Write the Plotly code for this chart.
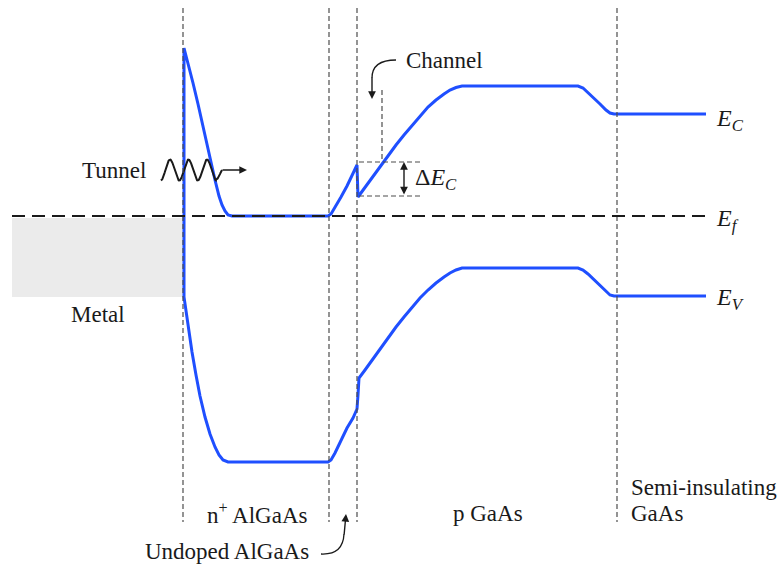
import numpy as np
import plotly.graph_objects as go

# Band-edge profiles across the structure (horizontal position, energy drawn downward)
ec_x = [184, 188, 193, 198, 204, 210, 215, 219, 222, 225, 228, 232, 328, 331, 335, 341, 347,
        353, 357, 358, 365, 372, 380, 388, 396, 404, 412, 420, 428, 436, 444, 450, 456, 462,
        578, 583, 588, 594, 600, 606, 610, 614, 706]
ec_y = [48, 63, 83, 104, 130, 157, 180, 196, 205, 211, 215, 216, 216, 214, 208, 197, 186,
        174, 165, 197, 188, 178, 167, 156, 145, 135, 125, 116, 107, 100, 94, 90, 87.5, 86,
        86, 88, 92, 98, 104, 110, 113, 114, 114]

ev_x = [184, 186, 189, 192, 196, 200, 205, 210, 215, 219, 223, 228, 328, 331, 335, 341, 347,
        353, 357, 358, 359, 365, 372, 380, 388, 396, 404, 412, 420, 428, 436, 444, 450, 456,
        462, 578, 583, 588, 594, 600, 606, 610, 614, 706]
ev_y = [297, 312, 332, 352, 375, 396, 417, 434, 447, 455, 460, 462, 462, 460, 453, 440, 428,
        418, 409, 395, 378, 370, 360, 349, 338, 327, 317, 307, 298, 290, 283, 277, 273, 270,
        268, 268, 270, 274, 280, 286, 292, 295, 296, 296]

fermi_level = 216
metal_band = (12, 183, 218, 297)

# Layer boundaries and their labels
boundaries = [183, 329, 357, 617]
region_labels = [
    ("n<sup>+</sup> AlGaAs", 257, 513, "center"),
    ("p GaAs", 488, 513, "center"),
    ("Semi-insulating", 629, 487, "left"),
    ("GaAs", 629, 513, "left"),
    ("Undoped AlGaAs", 227, 551, "center"),
    ("Metal", 98, 314, "center"),
    ("Tunnel", 148, 170, "right"),
    ("Channel", 404, 60, "left"),
]
edge_labels = [
    ("<i>E</i><sub><i>C</i></sub>", 714, 120),
    ("<i>E</i><sub><i>f</i></sub>", 714, 220),
    ("<i>E</i><sub><i>V</i></sub>", 714, 299),
]

# Conduction-band offset markers
offset_top, offset_bot = 162, 196
channel_x = 382

BLUE = "#1f4fff"
INK = "#1a1a1a"
FONT = "Liberation Serif, Times New Roman, serif"

fig = go.Figure()

shapes = []
# Metal Fermi sea
shapes.append(dict(type="rect", x0=metal_band[0], x1=metal_band[1], y0=metal_band[2], y1=metal_band[3],
                   fillcolor="#ebebeb", line=dict(width=0), layer="below"))
# Layer boundaries
for bx in boundaries:
    shapes.append(dict(type="line", x0=bx, x1=bx, y0=8, y1=522,
                       line=dict(color="#4d4d4d", width=1.2, dash="5px,3px")))
# Fermi level
shapes.append(dict(type="line", x0=12, x1=706, y0=fermi_level, y1=fermi_level,
                   line=dict(color=INK, width=2, dash="13px,7px")))
# Offset guide lines
for yy in (offset_top, offset_bot):
    shapes.append(dict(type="line", x0=359, x1=420, y0=yy, y1=yy,
                       line=dict(color="#4d4d4d", width=1.2, dash="5px,3px")))
shapes.append(dict(type="line", x0=channel_x, x1=channel_x, y0=90, y1=offset_top,
                   line=dict(color="#4d4d4d", width=1.2, dash="5px,3px")))
# Curved leader lines
shapes.append(dict(type="path", path="M 396 60 Q 372 60 372 78",
                   line=dict(color=INK, width=1.3)))
shapes.append(dict(type="path", path="M 321 554 Q 343 555 344 534",
                   line=dict(color=INK, width=1.3)))

# Band edges: conduction band, interface drop, valence band as one stroke
path_x = ec_x[::-1] + ev_x
path_y = ec_y[::-1] + ev_y
fig.add_trace(go.Scatter(x=path_x, y=path_y, mode="lines",
                         line=dict(color=BLUE, width=3, shape="linear"),
                         hoverinfo="skip", showlegend=False))

# Tunnelling wave, ending in a short horizontal tail
wx = np.linspace(161, 222, 240)
wy = 170 - 10.5 * np.cos(2 * np.pi * (wx - 170) / 18.5)
wy = np.where(wx > 216, 179.5 - (wx - 216) / 6 * 9.5 * np.sin(np.pi / 2 * (wx - 216) / 6), wy)
fig.add_trace(go.Scatter(x=wx, y=wy, mode="lines", line=dict(color=INK, width=2),
                         hoverinfo="skip", showlegend=False))

annotations = []
for text, x, y, anchor in region_labels:
    annotations.append(dict(x=x, y=y, text=text, showarrow=False, xanchor=anchor, yanchor="middle",
                            font=dict(family=FONT, size=23, color=INK)))
for text, x, y in edge_labels:
    annotations.append(dict(x=x, y=y, text=text, showarrow=False, xanchor="left", yanchor="middle",
                            font=dict(family=FONT, size=24, color=INK)))
annotations.append(dict(x=413, y=179, text="Δ<i>E</i><sub><i>C</i></sub>", showarrow=False,
                        xanchor="left", yanchor="middle", font=dict(family=FONT, size=24, color=INK)))
# Arrow heads
arrow_common = dict(text="", showarrow=True, xref="x", yref="y", axref="x", ayref="y",
                    arrowcolor=INK, arrowhead=2, arrowsize=1.1, arrowwidth=1.4)
annotations.append(dict(x=247, y=170, ax=221, ay=170, **arrow_common))
annotations.append(dict(x=372, y=99, ax=372, ay=76, **arrow_common))
annotations.append(dict(x=346, y=514, ax=344, ay=536, **arrow_common))
annotations.append(dict(x=404, y=offset_top, ax=404, ay=offset_bot, arrowside="end+start",
                        **arrow_common))

fig.update_layout(
    width=781, height=565,
    margin=dict(l=0, r=0, t=0, b=0),
    paper_bgcolor="white", plot_bgcolor="white",
    xaxis=dict(range=[0, 781], visible=False, fixedrange=True),
    yaxis=dict(range=[565, 0], visible=False, fixedrange=True),
    shapes=shapes, annotations=annotations, showlegend=False,
)

fig.write_html("out.html")
